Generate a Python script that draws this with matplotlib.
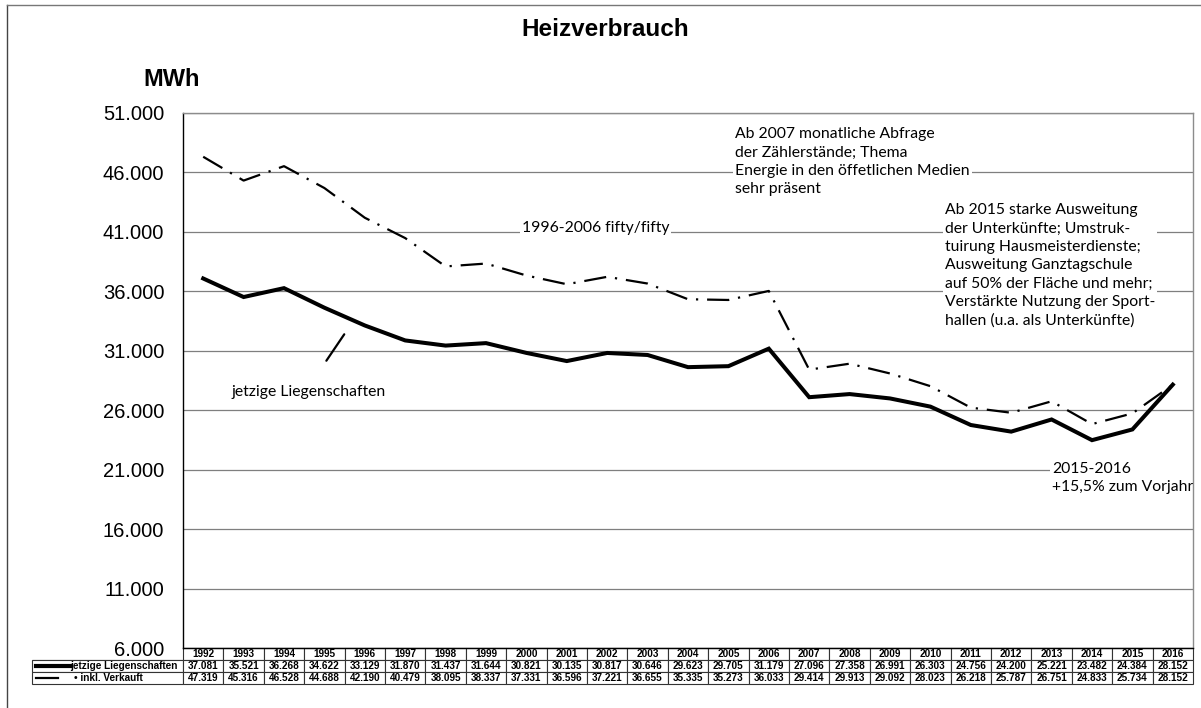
import matplotlib.pyplot as plt
from matplotlib.lines import Line2D
from matplotlib.ticker import FuncFormatter

W, H = 1201, 708

years = [str(y) for y in range(1992, 2017)]
jetzige = [37081, 35521, 36268, 34622, 33129, 31870, 31437, 31644, 30821, 30135,
           30817, 30646, 29623, 29705, 31179, 27096, 27358, 26991, 26303, 24756,
           24200, 25221, 23482, 24384, 28152]
inkl = [47319, 45316, 46528, 44688, 42190, 40479, 38095, 38337, 37331, 36596,
        37221, 36655, 35335, 35273, 36033, 29414, 29913, 29092, 28023, 26218,
        25787, 26751, 24833, 25734, 28152]
row_labels = ['jetzige Liegenschaften', '\u2022 inkl. Verkauft']
yticks = list(range(6000, 51001, 5000))

def fmt(v):
    return f'{v:,.0f}'.replace(',', '.')

plt.rcParams['font.family'] = ['Liberation Sans', 'DejaVu Sans']
note_font = ['Lato', 'DejaVu Sans']
note_size = 11.3

fig = plt.figure(figsize=(W / 100, H / 100), dpi=100)
ax = fig.add_axes([183 / W, 1 - 648 / H, (1193 - 183) / W, (648 - 113) / H])

x = list(range(len(years)))
ax.plot(x, jetzige, color='black', lw=2.9, solid_joinstyle='miter', zorder=3)
ax.plot(x, inkl, color='black', lw=1.6, linestyle=(0, (10, 4, 1, 4)), zorder=3)

ax.set_xlim(-0.5, len(years) - 0.5)
ax.set_ylim(6000, 51000)
ax.set_xticks([])
ax.set_yticks(yticks)
ax.yaxis.set_major_formatter(FuncFormatter(lambda v, p: fmt(v)))
ax.tick_params(axis='y', length=0, pad=13.5, labelsize=14.5)
ax.yaxis.grid(True, color='#7f7f7f', lw=0.9)
ax.set_axisbelow(True)
for s in ['left', 'bottom']:
    ax.spines[s].set_color('black')
    ax.spines[s].set_linewidth(1.0)
for s in ['top', 'right']:
    ax.spines[s].set_color('#8c8c8c')
    ax.spines[s].set_linewidth(1.0)

# annotations
box = dict(facecolor='white', edgecolor='none', pad=1.5)
ax.text(13.16, 49820, 'Ab 2007 monatliche Abfrage\nder Zählerstände; Thema\n'
        'Energie in den öffetlichen Medien\nsehr präsent',
        family=note_font, fontsize=note_size, va='top', ha='left', linespacing=1.4,
        bbox=box, zorder=2)
ax.text(18.36, 43430, 'Ab 2015 starke Ausweitung\nder Unterkünfte; Umstruk-\n'
        'tuirung Hausmeisterdienste;\nAusweitung Ganztagschule\n'
        'auf 50% der Fläche und mehr;\nVerstärkte Nutzung der Sport-\n'
        'hallen (u.a. als Unterkünfte)',
        family=note_font, fontsize=note_size, va='top', ha='left', linespacing=1.4,
        bbox=box, zorder=2)
ax.text(7.89, 41330, '1996-2006 fifty/fifty', family=note_font, fontsize=note_size,
        va='center', ha='left', bbox=box, zorder=2)
ax.text(0.71, 27530, 'jetzige Liegenschaften', family=note_font, fontsize=note_size,
        va='center', ha='left', zorder=2)
ax.annotate('', xy=(3.53, 32580), xytext=(3.01, 29970),
            arrowprops=dict(arrowstyle='-', lw=1.6, color='black'))
ax.text(21.01, 21650, '2015-2016\n+15,5% zum Vorjahr', family=note_font,
        fontsize=note_size, va='top', ha='left', linespacing=1.4, bbox=box,
        clip_on=True, zorder=2)

# data table
cell_text = [[''] + [fmt(v) for v in jetzige], [''] + [fmt(v) for v in inkl]]
col_w = [151 / 1161] + [40.4 / 1161] * len(years)
tab = ax.table(cellText=cell_text, colLabels=[''] + years, colWidths=col_w,
               cellLoc='center', bbox=[(32 - 183) / 1010, -36 / 535, 1161 / 1010, 36 / 535])
tab.auto_set_font_size(False)
tab.set_fontsize(7.2)
for (r, c), cell in tab.get_celld().items():
    cell.set_edgecolor('#333333')
    cell.set_linewidth(0.8)
    cell.get_text().set_fontweight('bold')
    cell.PAD = 0.02
tab[0, 0].visible_edges = 'B'
tab[0, 0].set_edgecolor('#333333')

# legend keys + row labels
fig.add_artist(Line2D([36 / W, 70 / W], [1 - 666 / H] * 2, color='black', lw=3))
fig.add_artist(Line2D([36 / W, 58 / W], [1 - 678 / H] * 2, color='black', lw=1.6))
fig.text(70.5 / W, 1 - 666 / H, row_labels[0], fontsize=7.2, fontweight='bold',
         va='center', ha='left')
fig.text(74 / W, 1 - 678 / H, row_labels[1], fontsize=7.2, fontweight='bold',
         va='center', ha='left')

# titles
fig.text(605 / W, 1 - 29 / H, 'Heizverbrauch', ha='center', va='center',
         fontsize=17.5, fontweight='bold')
fig.text(171.5 / W, 1 - 80 / H, 'MWh', ha='center', va='center',
         fontsize=17, fontweight='bold')

# outer frame
fig.add_artist(Line2D([7 / W, 7 / W], [0, 1 - 5 / H], color='#444444', lw=1))
fig.add_artist(Line2D([7 / W, 1], [1 - 5 / H] * 2, color='#777777', lw=1))

fig.savefig('out.png', dpi=100)
